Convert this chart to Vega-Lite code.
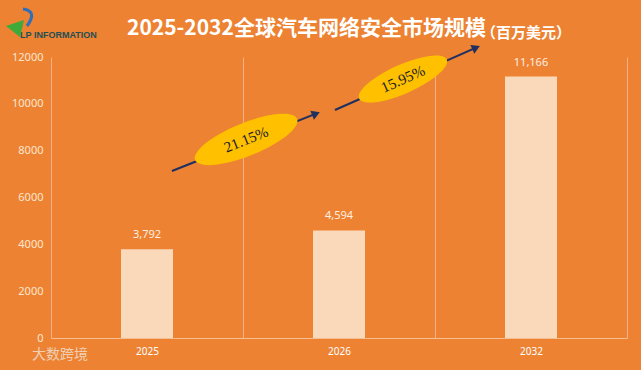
{
  "$schema": "https://vega.github.io/schema/vega-lite/v6.json",
  "width": 576,
  "height": 281,
  "autosize": {"type": "none"},
  "padding": {"left": 51, "top": 57, "right": 14, "bottom": 32},
  "background": "#EC8232",
  "config": {"view": {"stroke": null}, "font": "Noto Sans"},
  "title": {
    "text": "2025-2032全球汽车网络安全市场规模",
    "font": "Noto Sans CJK SC",
    "fontSize": 21,
    "fontWeight": "bold",
    "color": "#FFFFFF",
    "anchor": "start",
    "frame": "group",
    "dx": 76,
    "offset": -36
  },
  "datasets": {
    "bars": [
      {"year": "2025", "value": 3792, "label": "3,792"},
      {"year": "2026", "value": 4594, "label": "4,594"},
      {"year": "2032", "value": 11166, "label": "11,166"}
    ],
    "arrows": [
      {"seg": "a1", "ord": 1, "ax": 0.63, "ay": 7132},
      {"seg": "a1", "ord": 2, "ax": 1.38, "ay": 9579},
      {"seg": "a2", "ord": 1, "ax": 1.479, "ay": 9737},
      {"seg": "a2", "ord": 2, "ax": 2.214, "ay": 12397}
    ],
    "heads": [
      {"seg": "a1", "ax": 1.38, "ay": 9579},
      {"seg": "a2", "ax": 2.214, "ay": 12397}
    ],
    "rates": [
      {"id": "e1", "ax": 1.016, "ay": 8477, "txt": "21.15%"},
      {"id": "e2", "ax": 1.833, "ay": 11061, "txt": "15.95%"}
    ],
    "notes": [
      {"kind": "unit", "txt": "（百万美元）", "ax": 2.474, "ay": 13025},
      {"kind": "logo", "txt": "LP INFORMATION", "ax": -0.161, "ay": 12940},
      {"kind": "mark", "txt": "大数跨境", "ax": 0.047, "ay": -726}
    ],
    "icon": [
      {"part": "leaf", "ax": -0.177, "ay": 13281},
      {"part": "swoosh", "ax": -0.125, "ay": 13708}
    ]
  },
  "layer": [
    {
      "data": {"name": "bars"},
      "encoding": {
        "x": {
          "field": "year",
          "type": "nominal",
          "scale": {"paddingInner": 0, "paddingOuter": 0},
          "axis": {
            "title": null,
            "labelAngle": 0,
            "labelColor": "#FFFFFF",
            "labelFontSize": 10,
            "labelPadding": 8,
            "ticks": false,
            "domainColor": "#F6BE90",
            "grid": true,
            "gridColor": "#F3B283",
            "gridWidth": 1,
            "tickBand": "extent"
          }
        },
        "y": {
          "field": "value",
          "type": "quantitative",
          "scale": {"domain": [0, 12000]},
          "axis": {
            "title": null,
            "values": [0, 2000, 4000, 6000, 8000, 10000, 12000],
            "format": "d",
            "grid": false,
            "domain": false,
            "ticks": false,
            "labelColor": "#FFE6CF",
            "labelFontSize": 11,
            "labelPadding": 8
          }
        }
      },
      "layer": [
        {"mark": {"type": "bar", "size": 52, "color": "#F9D9BA"}},
        {
          "mark": {"type": "text", "dy": -14, "color": "#FFEFE0", "fontSize": 11},
          "encoding": {"text": {"field": "label"}}
        }
      ]
    },
    {
      "data": {"name": "arrows"},
      "mark": {"type": "line", "color": "#1F3060", "strokeWidth": 2},
      "encoding": {
        "x": {"field": "ax", "type": "quantitative", "scale": {"domain": [0, 3]}, "axis": null},
        "y": {"field": "ay", "type": "quantitative", "scale": {"domain": [0, 12000]}, "axis": null},
        "detail": {"field": "seg"},
        "order": {"field": "ord"}
      }
    },
    {
      "data": {"name": "heads"},
      "mark": {"type": "point", "shape": "triangle-right", "filled": true, "color": "#1F3060", "opacity": 1, "size": 90},
      "encoding": {
        "x": {"field": "ax", "type": "quantitative", "scale": {"domain": [0, 3]}, "axis": null},
        "y": {"field": "ay", "type": "quantitative", "scale": {"domain": [0, 12000]}, "axis": null},
        "angle": {"condition": {"test": "datum.seg === 'a1'", "value": -22}, "value": -24}
      }
    },
    {
      "data": {"name": "rates"},
      "mark": {"type": "point", "shape": "M -1 0 A 1 0.3 0 1 0 1 0 A 1 0.3 0 1 0 -1 0 Z", "filled": true, "color": "#FFC000", "opacity": 1},
      "encoding": {
        "x": {"field": "ax", "type": "quantitative", "scale": {"domain": [0, 3]}, "axis": null},
        "y": {"field": "ay", "type": "quantitative", "scale": {"domain": [0, 12000]}, "axis": null},
        "size": {"condition": {"test": "datum.id === 'e1'", "value": 12100}, "value": 9216},
        "angle": {"condition": {"test": "datum.id === 'e1'", "value": -22}, "value": -24}
      }
    },
    {
      "data": {"name": "rates"},
      "mark": {"type": "text", "font": "Liberation Serif", "fontSize": 15, "color": "#1A1A2A"},
      "encoding": {
        "x": {"field": "ax", "type": "quantitative", "scale": {"domain": [0, 3]}, "axis": null},
        "y": {"field": "ay", "type": "quantitative", "scale": {"domain": [0, 12000]}, "axis": null},
        "text": {"field": "txt"},
        "angle": {"condition": {"test": "datum.id === 'e1'", "value": -22}, "value": -24}
      }
    },
    {
      "data": {"name": "notes"},
      "transform": [{"filter": "datum.kind === 'unit'"}],
      "mark": {"type": "text", "font": "Noto Sans CJK SC", "fontSize": 15, "fontWeight": "bold", "color": "#FFFFFF"},
      "encoding": {
        "x": {"field": "ax", "type": "quantitative", "scale": {"domain": [0, 3]}, "axis": null},
        "y": {"field": "ay", "type": "quantitative", "scale": {"domain": [0, 12000]}, "axis": null},
        "text": {"field": "txt"}
      }
    },
    {
      "data": {"name": "notes"},
      "transform": [{"filter": "datum.kind === 'logo'"}],
      "mark": {"type": "text", "font": "Liberation Sans", "fontSize": 9, "fontWeight": "bold", "color": "#1F4F55", "align": "left"},
      "encoding": {
        "x": {"field": "ax", "type": "quantitative", "scale": {"domain": [0, 3]}, "axis": null},
        "y": {"field": "ay", "type": "quantitative", "scale": {"domain": [0, 12000]}, "axis": null},
        "text": {"field": "txt"}
      }
    },
    {
      "data": {"name": "icon"},
      "transform": [{"filter": "datum.part === 'leaf'"}],
      "mark": {"type": "point", "shape": "M -1.1 -0.1 L 0.7 -0.7 L 0.3 1 Z", "filled": true, "color": "#3DAA3A", "opacity": 1, "size": 400},
      "encoding": {
        "x": {"field": "ax", "type": "quantitative", "scale": {"domain": [0, 3]}, "axis": null},
        "y": {"field": "ay", "type": "quantitative", "scale": {"domain": [0, 12000]}, "axis": null}
      }
    },
    {
      "data": {"name": "icon"},
      "transform": [{"filter": "datum.part === 'swoosh'"}],
      "mark": {"type": "point", "shape": "M -0.4 -0.8 Q 1.1 -0.6 0 0.9", "filled": false, "color": "#2F6EBA", "strokeWidth": 3, "opacity": 1, "size": 400},
      "encoding": {
        "x": {"field": "ax", "type": "quantitative", "scale": {"domain": [0, 3]}, "axis": null},
        "y": {"field": "ay", "type": "quantitative", "scale": {"domain": [0, 12000]}, "axis": null}
      }
    },
    {
      "data": {"name": "notes"},
      "transform": [{"filter": "datum.kind === 'mark'"}],
      "mark": {"type": "text", "font": "Noto Sans CJK SC", "fontSize": 14, "color": "#F2E2D6", "opacity": 0.8},
      "encoding": {
        "x": {"field": "ax", "type": "quantitative", "scale": {"domain": [0, 3]}, "axis": null},
        "y": {"field": "ay", "type": "quantitative", "scale": {"domain": [0, 12000]}, "axis": null},
        "text": {"field": "txt"}
      }
    }
  ],
  "resolve": {"scale": {"x": "independent", "y": "independent"}}
}
